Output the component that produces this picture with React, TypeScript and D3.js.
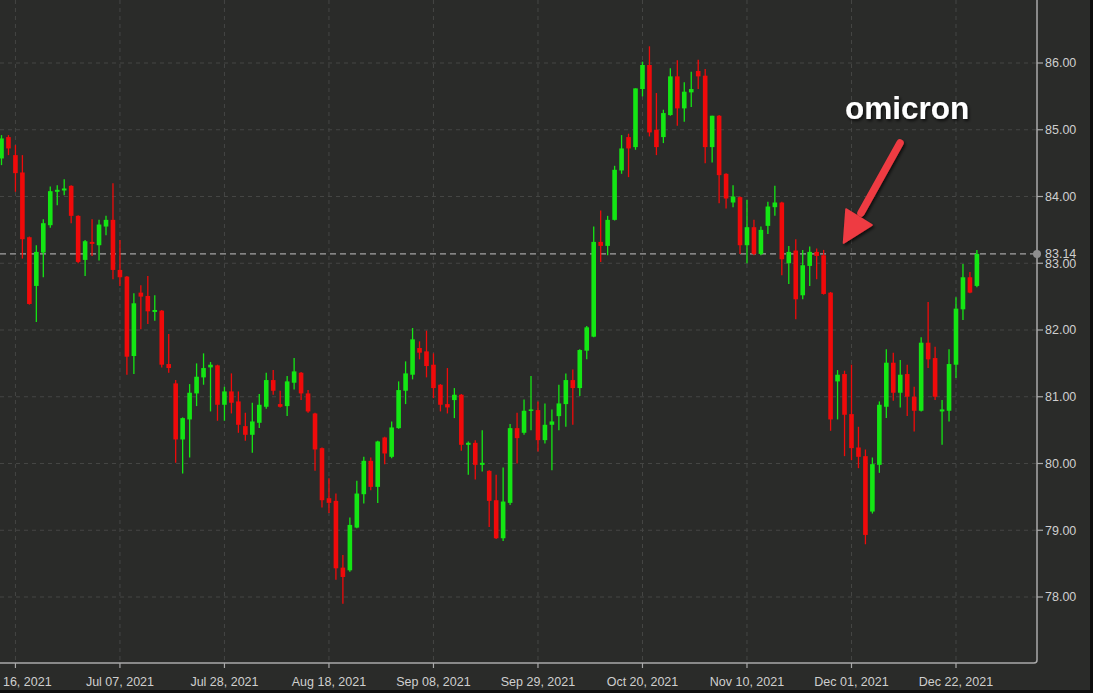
import React from "react";
import * as d3 from "d3";

// ---- data (AUD/JPY daily candles, Jun 14 2021 – Dec 27 2021) ----
const startDate = "2021-06-14";
const opens = [
  84.57, 84.89, 84.62, 84.36, 83.39, 82.66, 83.16, 83.57, 84.07, 84.09,
  84.16, 83.71, 83.05, 83.32, 83.27, 83.55, 83.65, 82.90, 82.80, 81.61,
  82.56, 82.51, 82.27, 82.29, 81.49, 81.20, 80.36, 80.66, 81.05, 81.29,
  81.44, 81.47, 80.88, 81.08, 80.93, 80.56, 80.43, 80.61, 80.85, 81.25,
  80.89, 80.86, 81.21, 81.36, 81.05, 80.75, 80.23, 79.48, 79.44, 78.44,
  78.40, 79.04, 79.54, 80.04, 79.65, 80.39, 80.10, 80.53, 81.09, 81.33,
  81.73, 81.68, 81.48, 81.18, 80.89, 80.95, 81.03, 80.28, 80.31, 79.98,
  79.89, 79.45, 78.88, 79.41, 80.53, 80.46, 80.79, 80.80, 80.35, 80.58,
  80.71, 80.89, 81.25, 81.13, 81.69, 81.90, 83.32, 83.26, 83.65, 84.39,
  84.89, 84.74, 85.61, 85.97, 85.00, 84.89, 85.22, 85.80, 85.32, 85.56,
  85.88, 85.81, 84.74, 85.21, 84.34, 83.91, 83.99, 83.27, 83.54, 83.14,
  83.56, 83.84, 83.91, 83.00, 83.19, 82.52, 82.96, 83.17, 83.12, 82.56,
  81.23, 81.34, 80.74, 80.24, 80.11, 79.28, 79.98, 80.85, 81.51, 81.06,
  81.34, 81.00, 80.79, 81.81, 81.58, 80.78, 80.79, 81.48, 82.31, 82.79,
  82.66,
];
const highs = [
  84.92, 84.92, 84.77, 84.62, 83.40, 83.27, 83.66, 84.15, 84.17, 84.26,
  84.17, 83.72, 83.35, 83.66, 83.65, 83.71, 84.20, 83.35, 82.81, 82.55,
  82.67, 82.81, 82.52, 82.30, 81.94, 81.25, 80.69, 81.19, 81.50, 81.65,
  81.52, 81.48, 81.15, 81.35, 81.08, 80.76, 80.91, 81.04, 81.36, 81.40,
  81.09, 81.31, 81.58, 81.37, 81.10, 80.76, 80.24, 79.78, 79.55, 78.63,
  79.19, 79.74, 80.10, 80.09, 80.34, 80.40, 80.63, 81.23, 81.53, 82.03,
  81.83, 81.99, 81.65, 81.19, 81.43, 81.13, 81.04, 80.33, 80.35, 80.50,
  79.90, 79.83, 79.94, 80.59, 80.76, 80.96, 81.31, 80.93, 80.90, 80.81,
  81.18, 81.35, 81.41, 81.71, 82.06, 83.55, 83.79, 83.71, 84.46, 84.92,
  84.94, 85.62, 86.02, 86.25, 85.55, 85.30, 85.92, 86.04, 85.71, 85.87,
  86.05, 85.91, 85.21, 85.22, 84.35, 84.17, 84.00, 83.95, 83.65, 83.55,
  83.92, 84.16, 83.92, 83.26, 83.36, 83.20, 83.25, 83.22, 83.20, 82.57,
  81.40, 81.39, 81.48, 80.55, 80.21, 80.09, 80.93, 81.71, 81.66, 81.55,
  81.48, 81.15, 81.89, 82.42, 81.75, 80.95, 81.71, 82.49, 82.99, 82.87,
  83.20,
];
const lows = [
  84.47, 84.62, 84.07, 83.07, 82.38, 82.12, 82.79, 83.53, 83.87, 84.02,
  83.60, 83.00, 82.81, 83.11, 83.04, 83.42, 82.76, 82.66, 81.33, 81.34,
  82.01, 82.09, 82.14, 81.44, 81.36, 80.01, 79.85, 80.09, 80.86, 81.18,
  80.78, 80.64, 80.64, 80.75, 80.46, 80.34, 80.16, 80.53, 80.82, 81.03,
  80.84, 80.71, 81.11, 80.95, 80.76, 79.89, 79.34, 79.26, 78.26, 77.90,
  78.38, 79.03, 79.40, 79.60, 79.41, 79.99, 80.08, 80.52, 80.89, 81.26,
  81.56, 81.29, 80.98, 80.78, 80.75, 80.68, 80.19, 79.83, 79.76, 79.88,
  79.05, 78.87, 78.84, 79.38, 80.00, 80.43, 80.50, 80.18, 80.30, 79.90,
  80.50, 80.55, 80.58, 81.01, 81.56, 81.89, 83.02, 83.12, 83.64, 84.34,
  84.29, 84.70, 85.50, 84.90, 84.62, 84.80, 85.21, 85.06, 85.12, 85.34,
  85.61, 84.50, 84.51, 83.90, 83.82, 83.84, 83.14, 83.00, 83.12, 83.12,
  83.44, 83.71, 82.82, 82.69, 82.16, 82.46, 82.66, 82.76, 82.53, 80.49,
  80.66, 80.11, 80.05, 79.93, 78.79, 79.25, 79.86, 80.68, 80.94, 80.84,
  80.71, 80.48, 80.78, 81.43, 80.95, 80.28, 80.63, 81.28, 82.15, 82.55,
  82.64,
];
const closes = [
  84.87, 84.72, 84.35, 83.36, 82.39, 83.17, 83.60, 84.08, 84.10, 84.12,
  83.71, 83.02, 83.33, 83.29, 83.58, 83.65, 82.90, 82.79, 81.60, 82.40,
  82.50, 82.28, 82.30, 81.48, 81.43, 80.36, 80.68, 81.06, 81.30, 81.43,
  81.48, 80.88, 81.08, 80.91, 80.58, 80.43, 80.63, 80.88, 81.25, 81.09,
  80.85, 81.23, 81.38, 81.05, 80.78, 80.21, 79.45, 79.41, 78.43, 78.30,
  79.08, 79.55, 80.04, 79.65, 80.33, 80.15, 80.54, 81.10, 81.35, 81.86,
  81.66, 81.46, 81.13, 80.88, 80.84, 81.03, 80.28, 80.31, 79.98, 80.01,
  79.44, 78.88, 79.43, 80.53, 80.38, 80.79, 80.81, 80.35, 80.58, 80.63,
  80.90, 81.25, 81.13, 81.70, 82.04, 83.32, 83.26, 83.65, 84.40, 84.72,
  84.72, 85.62, 85.97, 84.96, 84.74, 85.25, 85.80, 85.32, 85.57, 85.61,
  85.80, 84.74, 85.21, 84.32, 83.97, 84.00, 83.27, 83.54, 83.14, 83.50,
  83.85, 83.91, 83.06, 83.17, 82.46, 82.97, 83.17, 83.11, 82.54, 80.66,
  81.33, 80.73, 80.23, 80.10, 78.93, 79.99, 80.88, 81.51, 81.06, 81.33,
  81.00, 80.79, 81.81, 81.56, 81.00, 80.81, 81.49, 82.32, 82.79, 82.56,
  83.14,
];
const xTickLabels = [
  "Jun 16, 2021", "Jul 07, 2021", "Jul 28, 2021", "Aug 18, 2021", "Sep 08, 2021",
  "Sep 29, 2021", "Oct 20, 2021", "Nov 10, 2021", "Dec 01, 2021", "Dec 22, 2021",
];
const yTicks = [78, 79, 80, 81, 82, 83, 84, 85, 86];
const lastPrice = 83.14;
const annotation = "omicron";

// trading days (weekdays) as categories
const fmt = d3.timeFormat("%b %d, %Y");
const dates: string[] = (() => {
  const out: string[] = [];
  let d = new Date(startDate + "T12:00:00");
  while (out.length < opens.length) {
    const wd = d.getDay();
    if (wd !== 0 && wd !== 6) out.push(fmt(d));
    d = d3.timeDay.offset(d, 1);
  }
  return out;
})();

const W = 1093;
const H = 693;
const plotRight = 1037;
const plotBottom = 663;

const BG = "#2a2b29";
const GREEN = "#14e614";
const RED = "#f00a0a";
const GRID = "#454644";
const AXIS = "#a9a9a9";
const LABEL = "#cfcfcf";

export default function App() {
  const x = d3.scalePoint<string>().domain(dates).range([1.5, 976.9]);
  const y = d3.scaleLinear().domain([78, 86]).range([597, 63]);
  const bodyW = 4.6;

  const candles = dates.map((d, i) => ({
    d,
    o: opens[i],
    h: highs[i],
    l: lows[i],
    c: closes[i],
  }));

  const font = "'Liberation Sans', Arial, sans-serif";

  return (
    <svg
      width={W}
      height={H}
      style={{ position: "absolute", left: 0, top: 0, display: "block" }}
    >
      <defs>
        <filter id="shadow" x="-20%" y="-20%" width="140%" height="140%">
          <feDropShadow dx="1.5" dy="2" stdDeviation="1.8" floodColor="#000" floodOpacity="0.7" />
        </filter>
      </defs>
      <rect x={0} y={0} width={W} height={H} fill="#0d0d0d" />
      <rect x={0} y={0} width={1090} height={690} fill={BG} />

      {/* grid */}
      <g>
        {yTicks.map((t) => (
          <line
            key={"gy" + t}
            x1={0}
            x2={plotRight}
            y1={y(t)}
            y2={y(t)}
            stroke={GRID}
            strokeWidth={1}
            strokeDasharray="4,4"
          />
        ))}
        {xTickLabels.map((lab) => (
          <line
            key={"gx" + lab}
            x1={x(lab)}
            x2={x(lab)}
            y1={0}
            y2={plotBottom}
            stroke={GRID}
            strokeWidth={1}
            strokeDasharray="4,4"
          />
        ))}
      </g>

      {/* last price line */}
      <line
        x1={0}
        x2={plotRight}
        y1={y(lastPrice)}
        y2={y(lastPrice)}
        stroke="#a3a3a3"
        strokeWidth={1.3}
        strokeDasharray="6,4"
      />

      {/* candles */}
      <g>
        {candles.map((k) => {
          const cx = x(k.d) as number;
          const up = k.c >= k.o;
          const col = up ? GREEN : RED;
          const top = y(Math.max(k.o, k.c));
          const bot = y(Math.min(k.o, k.c));
          return (
            <g key={k.d}>
              <line x1={cx} x2={cx} y1={y(k.h)} y2={y(k.l)} stroke={col} strokeWidth={1.3} />
              <rect
                x={cx - bodyW / 2}
                y={top}
                width={bodyW}
                height={Math.max(1.5, bot - top)}
                fill={col}
              />
            </g>
          );
        })}
      </g>

      {/* axes frame */}
      <path
        d={`M0,${plotBottom} H${plotRight - 3} Q${plotRight},${plotBottom} ${plotRight},${plotBottom - 3} V0`}
        fill="none"
        stroke={AXIS}
        strokeWidth={1.5}
      />

      {/* y axis ticks and labels */}
      <g fontFamily={font} fontSize={12.5} fill={LABEL}>
        {yTicks.map((t) => (
          <g key={"yt" + t}>
            <line x1={plotRight} x2={plotRight + 6} y1={y(t)} y2={y(t)} stroke={AXIS} strokeWidth={1.2} />
            <text x={plotRight + 8} y={y(t)} dy="0.35em">
              {t.toFixed(2)}
            </text>
          </g>
        ))}
        <circle cx={plotRight} cy={y(lastPrice)} r={4} fill="#8e8e8e" />
        <text x={plotRight + 8} y={y(lastPrice)} dy="0.35em">
          {lastPrice.toFixed(2)}
        </text>
      </g>

      {/* x axis ticks and labels */}
      <g fontFamily={font} fontSize={12.5} fill={LABEL} textAnchor="middle">
        {xTickLabels.map((lab) => (
          <g key={"xt" + lab}>
            <line x1={x(lab)} x2={x(lab)} y1={plotBottom} y2={plotBottom + 5} stroke={AXIS} strokeWidth={1.2} />
            <text x={x(lab)} y={686}>
              {lab}
            </text>
          </g>
        ))}
      </g>

      {/* annotation */}
      <g filter="url(#shadow)">
        <text
          x={845}
          y={119}
          fontFamily={font}
          fontWeight="bold"
          fontSize={31.5}
          fill="#ffffff"
        >
          {annotation}
        </text>
        <line
          x1={900}
          y1={143}
          x2={861}
          y2={213}
          stroke="#ee3b43"
          strokeWidth={7.5}
          strokeLinecap="round"
        />
        <path d="M843.5,243 L846,209 L872,225 Z" fill="#ee3b43" stroke="#ee3b43" strokeWidth={1.5} strokeLinejoin="round" />
      </g>
    </svg>
  );
}
